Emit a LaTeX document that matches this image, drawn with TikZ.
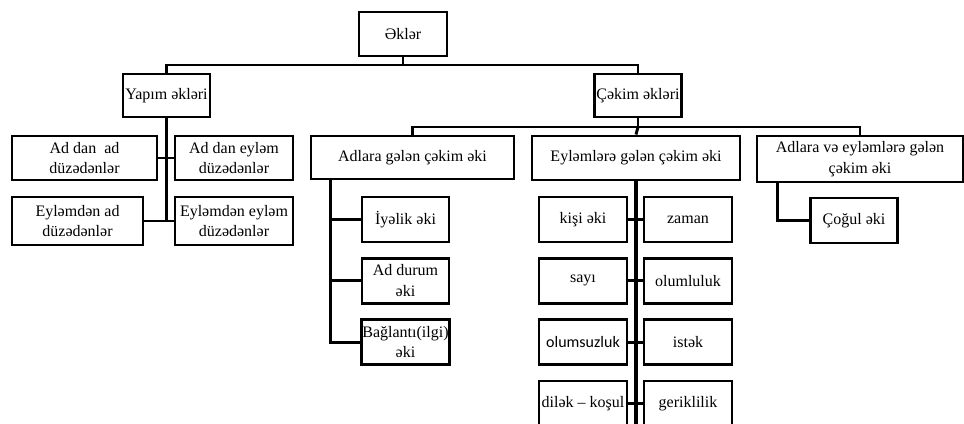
\documentclass[tikz,border=0pt]{standalone}
\usepackage{fontspec}
\setmainfont{Liberation Serif}
\newfontfamily\calibrifont{Carlito}

\begin{document}
\begin{tikzpicture}[x=0.75pt,y=-0.75pt,line width=2.2pt,node distance=46pt,
    box/.style={rectangle,draw,line width=2.2pt,align=center,inner sep=0.5pt,
      font=\fontsize{12}{15.5}\selectfont,minimum height=33pt},
    leaf/.style={box,minimum width=65.25pt,minimum height=33.75pt}]
  \useasboundingbox (0,0) rectangle (964,424);

  %% top levels
  \node[box,minimum width=66pt] (root) at (403,34) {Əklər};
  \node[box,minimum width=65.25pt,minimum height=32.25pt] (yapim) at (166.5,95.5) {Yapım əkləri};
  \node[box,minimum width=65.25pt,minimum height=32.25pt] (cekim) at (638,95.5) {Çəkim əkləri};

  %% yapim ekleri
  \node[box,minimum width=108.75pt] (adad) at (84.5,158) {Ad dan\ \ ad\\düzədənlər};
  \node[box,minimum width=88.5pt] (adeylem) at (234,158) {Ad dan eyləm\\düzədənlər};
  \node[box,minimum width=98.25pt,minimum height=36pt] (eylad) at (77.5,221) {Eyləmdən ad\\düzədənlər};
  \node[box,minimum width=88.5pt,minimum height=36pt] (eyleylem) at (234,221) {Eyləmdən eyləm\\düzədənlər};

  %% cekim ekleri
  \node[box,minimum width=152.25pt,minimum height=32.25pt] (adlara) at (412.5,157.5) {Adlara gələn çəkim əki};
  \node[box,minimum width=156pt] (eylemlere) at (636,158) {Eyləmlərə gələn çəkim əki};
  \node[box,minimum width=154.5pt,minimum height=34.5pt] (ortaq) at (860,159) {Adlara və eyləmlərə gələn\\çəkim əki};

  \node[leaf] (iyelik) at (405.5,219.5) {İyəlik əki};
  \node[leaf] (durum) [below of=iyelik] {Ad durum\\əki};
  \node[leaf] (baglanti) [below of=durum] {Bağlantı(ilgi)\\əki};

  \node[leaf,minimum width=66pt] (kisi) at (583,219.5) {kişi əki};
  \node[leaf,minimum width=66pt] (sayi) [below of=kisi] {sayı};
  \node[leaf,minimum width=66pt] (olumsuz) [below of=sayi] {\calibrifont olumsuzluk};
  \node[leaf,minimum width=66pt] (dilek) [below of=olumsuz] {dilək – koşul};
  \node[leaf,minimum width=66pt] (zaman) [node distance=78.75pt, right of=kisi] {zaman};
  \node[leaf,minimum width=66pt] (olumlu) [node distance=78.75pt, right of=sayi] {olumluluk};
  \node[leaf,minimum width=66pt] (istek) [node distance=78.75pt, right of=olumsuz] {istək};
  \node[leaf,minimum width=66pt] (gerik) [node distance=78.75pt, right of=dilek] {geriklilik};

  \node[leaf] (cogul) at (854,220.5) {Çoğul əki};

  \coordinate (rj) at (403,65);
  \coordinate (cj) at (638,127);
  \coordinate (bot) at (636,440);

  %% connectors
  \draw (root.south) -- (rj);
  \draw (yapim.north) |- (rj) -| (cekim.north);
  \draw (yapim.south) -- (yapim.south |- eylad.east);
  \draw (adad.east) -- (adeylem.west);
  \draw (eylad.east) -- (eyleylem.west);

  \draw (cekim.south) -- (cj);
  \draw (adlara.north) |- (cj) -| (ortaq.north);
  \draw (cj) -- (eylemlere.north);

  \draw ([xshift=15.75pt]adlara.south west) |- (iyelik.west)
        ([xshift=15.75pt]adlara.south west) |- (durum.west)
        ([xshift=15.75pt]adlara.south west) |- (baglanti.west);

  \draw[line width=3pt] (eylemlere.south) -- (eylemlere.south |- bot);
  \draw (kisi.east) -- (zaman.west);
  \draw (sayi.east) -- (olumlu.west);
  \draw (olumsuz.east) -- (istek.west);
  \draw (dilek.east) -- (gerik.west);

  \draw ([xshift=16.5pt]ortaq.south west) |- (cogul.west);
\end{tikzpicture}
\end{document}
